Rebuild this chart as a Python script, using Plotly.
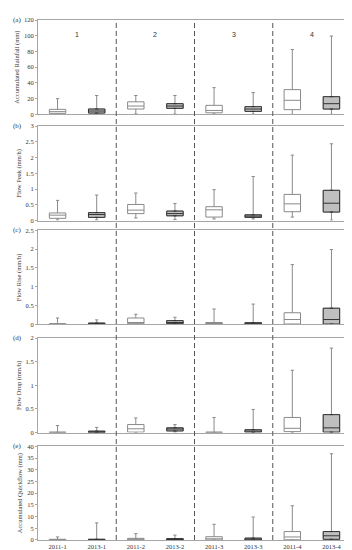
import plotly.graph_objects as go
from plotly.subplots import make_subplots

categories = ["2011-1", "2013-1", "2011-2", "2013-2", "2011-3", "2013-3", "2011-4", "2013-4"]
cats_2011 = ["2011-1", "2011-2", "2011-3", "2011-4"]
cats_2013 = ["2013-1", "2013-2", "2013-3", "2013-4"]
group_labels = ["1", "2", "3", "4"]
panel_labels = ["(a)", "(b)", "(c)", "(d)", "(e)"]
y_titles = ["Accumulated Rainfall (mm)", "Flow Peak (mm/h)", "Flow Rise (mm/h)",
            "Flow Drop (mm/h)", "Accumulated Quickflow (mm)"]
y_ranges = [[0, 120], [0, 3], [0, 2.5], [0, 2], [0, 40]]
y_dticks = [20, 0.5, 0.5, 0.5, 5]

# stats per panel: [lower, q1, median, q3, upper] for each group
rain_2011 = [[0, 1.3, 3.5, 6.4, 20], [0.5, 6.8, 10.6, 16, 24], [0.3, 2, 5, 11.5, 34], [0, 6, 17.9, 31.5, 82.5]]
rain_2013 = [[0, 1.7, 4.3, 6.8, 24], [0.3, 7.7, 10.6, 13.6, 24], [0.3, 3.8, 6.8, 9.8, 27.7], [0, 6.8, 13.6, 22.5, 99.6]]
peak_2011 = [[0.02, 0.07, 0.17, 0.24, 0.64], [0.08, 0.22, 0.33, 0.51, 0.875], [0.05, 0.11, 0.34, 0.44, 0.98], [0.11, 0.28, 0.53, 0.83, 2.08]]
peak_2013 = [[0.02, 0.10, 0.19, 0.25, 0.81], [0.03, 0.15, 0.22, 0.30, 0.54], [0.05, 0.10, 0.14, 0.18, 1.40], [0.01, 0.27, 0.55, 0.96, 2.44]]
rise_2011 = [[0, 0, 0.01, 0.02, 0.17], [0, 0.02, 0.05, 0.17, 0.27], [0, 0, 0.02, 0.05, 0.41], [0, 0.01, 0.13, 0.31, 1.59]]
rise_2013 = [[0, 0, 0.02, 0.035, 0.12], [0, 0.02, 0.05, 0.10, 0.19], [0, 0.005, 0.02, 0.045, 0.54], [0, 0.01, 0.13, 0.43, 1.99]]
drop_2011 = [[0, 0, 0.005, 0.01, 0.15], [0, 0.01, 0.08, 0.17, 0.31], [0, 0, 0.005, 0.01, 0.32], [0, 0.02, 0.09, 0.32, 1.32]]
drop_2013 = [[0, 0, 0.015, 0.03, 0.11], [0.01, 0.035, 0.075, 0.10, 0.17], [0, 0.01, 0.02, 0.06, 0.49], [0, 0.01, 0.10, 0.38, 1.79]]
qf_2011 = [[0, 0, 0.1, 0.3, 1.3], [0, 0, 0.3, 0.7, 2.7], [0, 0, 0.5, 1.4, 6.7], [0, 0.1, 1.3, 3.6, 14.6]]
qf_2013 = [[0, 0, 0.1, 0.3, 7.3], [0, 0, 0.2, 0.6, 2.1], [0, 0, 0.2, 0.8, 9.8], [0, 0.3, 1.8, 3.6, 36.8]]

data_2011 = [rain_2011, peak_2011, rise_2011, drop_2011, qf_2011]
data_2013 = [rain_2013, peak_2013, rise_2013, drop_2013, qf_2013]

domains = [[0.8185, 1.0], [0.6144, 0.7958], [0.4146, 0.5955], [0.2066, 0.3881], [0.0, 0.1802]]

fig = make_subplots(rows=5, cols=1, shared_xaxes=True)
serif = "Liberation Serif"


def add_box(stats, cats, fill, line, row, box_only=False):
    fig.add_trace(go.Box(
        x=cats,
        lowerfence=[s[1] if box_only else s[0] for s in stats],
        q1=[s[1] for s in stats],
        median=[s[2] for s in stats],
        q3=[s[3] for s in stats],
        upperfence=[s[3] if box_only else s[4] for s in stats],
        fillcolor=fill,
        line=dict(color=line, width=1),
        width=0.42,
        whiskerwidth=0.2,
        boxpoints=False,
        showlegend=False,
        hoverinfo="skip",
    ), row=row, col=1)


for i in range(5):
    add_box(data_2011[i], cats_2011, "white", "#8a8a8a", i + 1)
    # 2013: grey whiskers, then the box itself with a dark outline on top
    add_box(data_2013[i], cats_2013, "#bfbfbf", "#8a8a8a", i + 1)
    add_box(data_2013[i], cats_2013, "#bfbfbf", "#333333", i + 1, box_only=True)

fig.update_layout(
    width=352, height=550,
    margin=dict(l=30, r=9, t=8, b=13),
    plot_bgcolor="white", paper_bgcolor="white",
    boxmode="overlay",
    font=dict(family=serif, size=7, color="#333"),
)

for i in range(5):
    yk = "yaxis" if i == 0 else f"yaxis{i+1}"
    xk = "xaxis" if i == 0 else f"xaxis{i+1}"
    fig.layout[yk].update(
        domain=domains[i], range=y_ranges[i], dtick=y_dticks[i], tick0=0,
        showgrid=False, zeroline=False, showline=True, mirror=True,
        linecolor="#a6a6a6", linewidth=1, ticks="outside", ticklen=2,
        tickcolor="#a6a6a6", tickfont=dict(family=serif, size=6.5, color="#333"),
        title=dict(text=y_titles[i], font=dict(family=serif, size=6.5, color="#333"), standoff=3),
    )
    fig.layout[xk].update(
        type="category", categoryorder="array", categoryarray=categories,
        range=[-0.5, 7.5], showgrid=False, zeroline=False, showline=True, mirror=True,
        linecolor="#a6a6a6", linewidth=1, ticks="",
        showticklabels=(i == 4),
        tickfont=dict(family=serif, size=6.5, color="#333"),
    )
    fig.add_annotation(text=panel_labels[i], xref="paper", yref="paper",
                       x=-0.085, y=domains[i][1], xanchor="left", yanchor="middle",
                       showarrow=False, font=dict(family=serif, size=7, color="#333"))

for k, g in enumerate(group_labels):
    fig.add_annotation(text=g, xref="x", yref="paper", x=2 * k + 0.5, y=0.983,
                       showarrow=False, font=dict(family="Liberation Sans", size=7, color="#333"))

for xb in [1.5, 3.5, 5.5]:
    fig.add_shape(type="line", xref="x", yref="paper", x0=xb, x1=xb, y0=0, y1=1,
                  line=dict(color="#555", width=1, dash="5px,3px"))

fig.write_html("out.html")
